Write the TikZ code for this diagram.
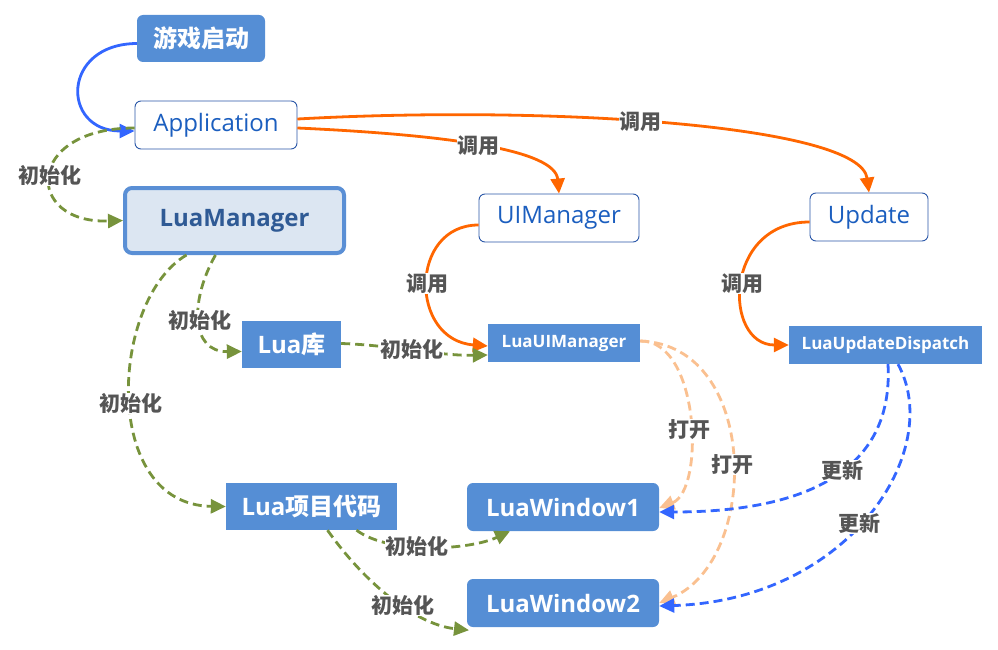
\documentclass[tikz,border=0pt]{standalone}
\usepackage{fontspec}
\setmainfont{Open Sans}
\newfontfamily\cjk{Noto Sans CJK SC}
\usetikzlibrary{arrows.meta}
\definecolor{nodeblue}{HTML}{558ED5}
\definecolor{appborder}{HTML}{2A57A8}
\definecolor{apptext}{HTML}{1B5EBF}
\definecolor{lmfill}{HTML}{DCE6F2}
\definecolor{lmborder}{HTML}{5A8FD5}
\definecolor{lmtext}{HTML}{2F5A95}
\definecolor{callorange}{HTML}{FF6600}
\definecolor{initgreen}{HTML}{77933C}
\definecolor{openorange}{HTML}{FAC090}
\definecolor{updblue}{HTML}{3366FF}
\definecolor{lblgray}{HTML}{555555}
\tikzset{
  bluebox/.style={fill=nodeblue, text=white, inner sep=0pt, font=\fontsize{24}{28}\selectfont\bfseries},
  roundbox/.style={bluebox, rounded corners=6pt},
  smallbox/.style={bluebox, font=\fontsize{17}{20}\selectfont\bfseries},
  whitebox/.style={draw=appborder, line width=0.9pt, fill=white, rounded corners=6pt, text=apptext, inner sep=0pt, font=\fontsize{24}{28}\selectfont},
  lbl/.style={fill=white, text=lblgray, inner sep=0.5pt, font=\cjk\fontsize{21}{24}\selectfont\bfseries},
  tip/.style={-{Triangle[length=15pt,width=14pt]}},
  callarrow/.style={tip, draw=callorange, line width=2.8pt},
  initarrow/.style={tip, draw=initgreen, line width=2.8pt, dash pattern=on 9pt off 5pt},
  openarrow/.style={tip, draw=openorange, line width=2.8pt, dash pattern=on 9pt off 5pt},
  updarrow/.style={tip, draw=updblue, line width=2.8pt, dash pattern=on 9pt off 5pt},
  startarrow/.style={tip, draw=updblue, line width=2.8pt},
}
\begin{document}
\begin{tikzpicture}[x=1pt,y=-1pt]
\useasboundingbox (0,0) rectangle (998,650);
% nodes
\node[roundbox, minimum width=128pt, minimum height=47pt] (start) at (201,38.5) {\cjk 游戏启动};
\node[whitebox, minimum width=162pt, minimum height=48pt] (app) at (216,125) {Application};
\node[draw=lmborder, line width=4pt, fill=lmfill, rounded corners=7pt, text=lmtext, inner sep=0pt,
      font=\fontsize{24}{28}\selectfont\bfseries, minimum width=219pt, minimum height=65pt] (lm) at (234.5,220.5) {LuaManager};
\node[whitebox, minimum width=160pt, minimum height=48pt] (uim) at (559,218) {UIManager};
\node[whitebox, minimum width=118pt, minimum height=48pt] (upd) at (869,217) {Update};
\node[bluebox, minimum width=99pt, minimum height=47pt] (lib) at (291.5,344.5) {Lua{\cjk 库}};
\node[smallbox, minimum width=152pt, minimum height=38pt] (luim) at (564,343) {LuaUIManager};
\node[smallbox, minimum width=193pt, minimum height=38pt] (lud) at (885.5,345) {LuaUpdateDispatch};
\node[bluebox, minimum width=171pt, minimum height=47pt] (proj) at (311.5,506.5) {Lua{\cjk 项目代码}};
\node[roundbox, minimum width=192pt, minimum height=48pt] (w1) at (563,507) {LuaWindow1};
\node[roundbox, minimum width=192pt, minimum height=48pt] (w2) at (563,603) {LuaWindow2};
% connectors
\draw[startarrow] ([yshift=-5pt]start.west) .. controls (61,44) and (61,131) .. ([yshift=-6pt]app.west);
\draw[initarrow] ([yshift=-3pt]app.west) .. controls (24,128) and (24,224) .. (lm.west) node[lbl, pos=0.5] {初始化};
\draw[callarrow] ([yshift=-3pt]app.east) .. controls (450,135) and (555,150) .. (uim.north) node[lbl, pos=0.48] {调用};
\draw[callarrow] ([yshift=6pt]app.east) .. controls (550,105) and (860,125) .. (upd.north) node[lbl, pos=0.45] {调用};
\draw[callarrow] ([yshift=-7pt]uim.west) .. controls (409,225) and (409,340) .. ([yshift=-3pt]luim.west) node[lbl, pos=0.5] {调用};
\draw[callarrow] ([yshift=-5pt]upd.west) .. controls (723,222) and (723,345) .. (lud.west) node[lbl, pos=0.5] {调用};
\draw[initarrow] ([xshift=-19pt]lm.south) .. controls (190,300) and (190,352) .. ([yshift=-7pt]lib.west) node[lbl, pos=0.5] {初始化};
\draw[initarrow] ([xshift=-48pt]lm.south) .. controls (110,300) and (100,505) .. (proj.west) node[lbl, pos=0.52] {初始化};
\draw[initarrow] ([yshift=1pt]lib.east) .. controls (390,345) and (440,356) .. ([yshift=-12pt]luim.west) node[lbl, pos=0.48] {初始化};
\draw[openarrow] ([yshift=2pt]luim.east) .. controls (700,340) and (705,490) .. ([yshift=-1pt]w1.east) node[lbl, pos=0.55] {打开};
\draw[openarrow] ([yshift=2pt]luim.east) .. controls (760,345) and (760,560) .. (w2.east) node[lbl, pos=0.52] {打开};
\draw[updarrow] ([xshift=2.5pt]lud.south) .. controls (895,490) and (770,512) .. ([yshift=-5pt]w1.east) node[lbl, pos=0.4] {更新};
\draw[updarrow] ([xshift=12.5pt]lud.south) .. controls (945,450) and (850,600) .. ([yshift=-3pt]w2.east) node[lbl, pos=0.53] {更新};
\draw[initarrow] ([xshift=45pt]proj.south) .. controls (390,555) and (470,550) .. ([xshift=-53pt]w1.south) node[lbl, pos=0.42] {初始化};
\draw[initarrow] ([xshift=16pt]proj.south) .. controls (370,590) and (420,625) .. ([xshift=-94pt,yshift=-3pt]w2.south) node[lbl, pos=0.55] {初始化};
\end{tikzpicture}
\end{document}
